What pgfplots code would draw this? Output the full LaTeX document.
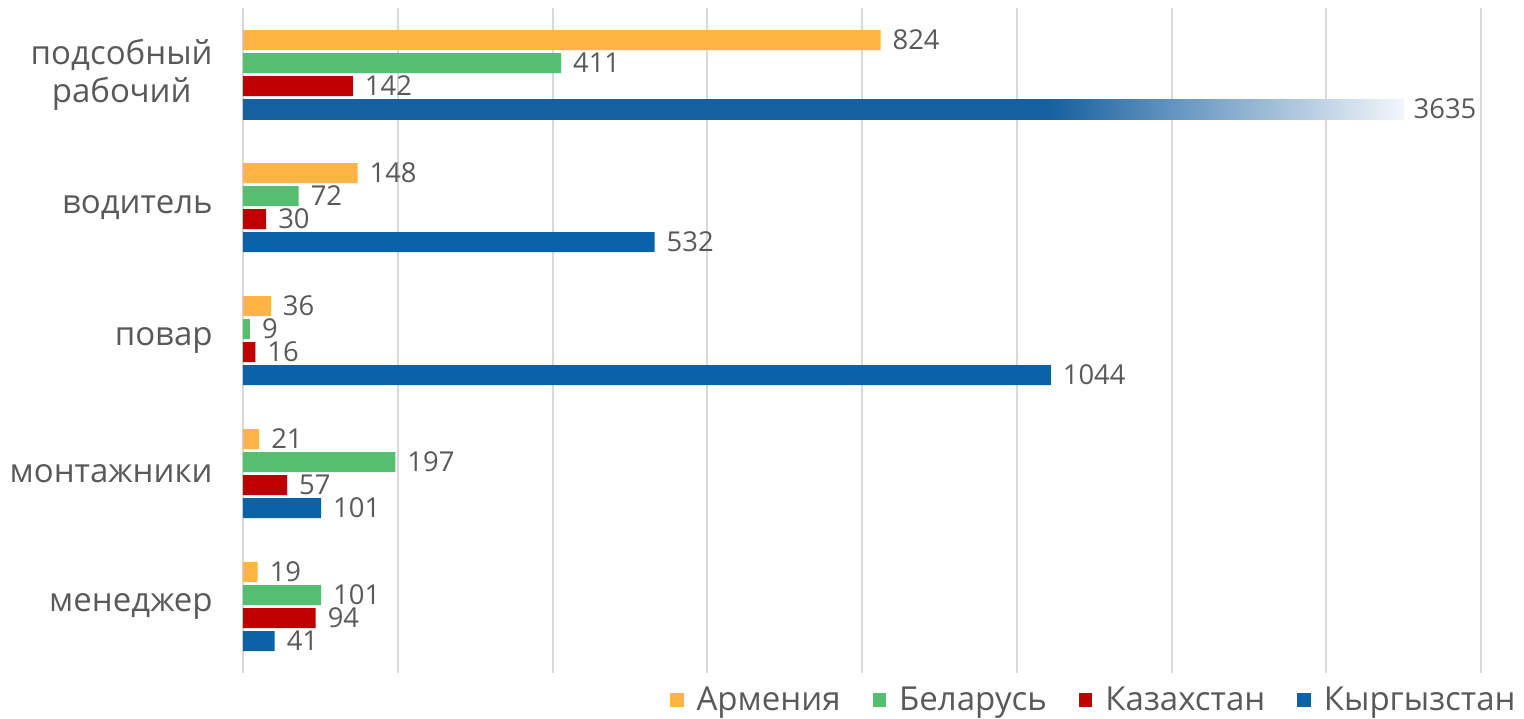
\documentclass[border=0pt]{standalone}
\usepackage{pgfplots}
\pgfplotsset{compat=1.18}
\usepackage{fontspec}
\setmainfont{Open Sans}
\definecolor{arm}{HTML}{FFB443}
\definecolor{bel}{HTML}{55BE71}
\definecolor{kaz}{HTML}{C00000}
\definecolor{kyr}{HTML}{0A63A8}
\definecolor{kyrdark}{HTML}{1560A0}
\definecolor{kyrlight}{HTML}{F2F6FA}
\definecolor{txt}{HTML}{595959}
\definecolor{gridgray}{HTML}{D9D9D9}
\pgfdeclarehorizontalshading{kyrfade}{100bp}{color(0bp)=(kyrdark); color(25bp)=(kyrdark); color(59.7bp)=(kyrdark); color(75bp)=(kyrlight); color(100bp)=(kyrlight)}
\begin{document}
\begin{tikzpicture}
\useasboundingbox (-121.5pt,-22.5pt) rectangle (640.5pt,336.5pt);
\begin{axis}[at={(0pt,0pt)}, anchor=south west, scale only axis,
  width=619pt, height=332.5pt,
  xmin=0, xmax=1600, ymin=-0.5, ymax=4.5,
  xtick={0,200,...,1600}, xticklabels={}, xmajorgrids,
  grid style={draw=gridgray, line width=1pt},
  axis line style={draw=none}, major tick length=0pt,
  ytick={0,...,4},
  yticklabels={менеджер, монтажники, повар, водитель, {подсобный\\рабочий}},
  yticklabel style={align=center, font=\fontsize{16.5}{19}\selectfont, text=txt, inner sep=0pt, xshift=-15pt},
  xbar, bar width=10pt,
  nodes near coords,
  every node near coord/.append style={font=\fontsize{13.7}{16}\selectfont, text=txt, xshift=2.5pt},
  /pgf/number format/assume math mode=true, /pgf/number format/1000 sep={},
  legend columns=4,
  legend style={at={(axis description cs:1.0315,-0.0406)}, anchor=east, draw=none, fill=none, inner sep=0pt,
    font=\fontsize{16.5}{19}\selectfont, text=txt, legend cell align=left,
    /tikz/every odd column/.append style={column sep=4.5pt},
    /tikz/every even column/.append style={column sep=14pt}},
  legend image code/.code={\fill[#1] (0pt,-3.4pt) rectangle (6.8pt,3.4pt);},
]
\addplot[fill=arm, draw=none, bar shift=17.25pt] coordinates {(19,0) (21,1) (36,2) (148,3) (824,4)};
\addplot[fill=bel, draw=none, bar shift=5.75pt] coordinates {(101,0) (197,1) (9,2) (72,3) (411,4)};
\addplot[fill=kaz, draw=none, bar shift=-5.75pt] coordinates {(94,0) (57,1) (16,2) (30,3) (142,4)};
\addplot[fill=kyr, draw=none, bar shift=-17.25pt] coordinates {(41,0) (101,1) (1044,2) (532,3)};
\addplot[shading=kyrfade, draw=none, bar shift=-17.25pt, forget plot, point meta=explicit,
  every node near coord/.append style={anchor=west, xshift=-1pt}] coordinates {(1500,4) [3635]};
\legend{Армения, Беларусь, Казахстан, Кыргызстан}
\end{axis}
\end{tikzpicture}
\end{document}
